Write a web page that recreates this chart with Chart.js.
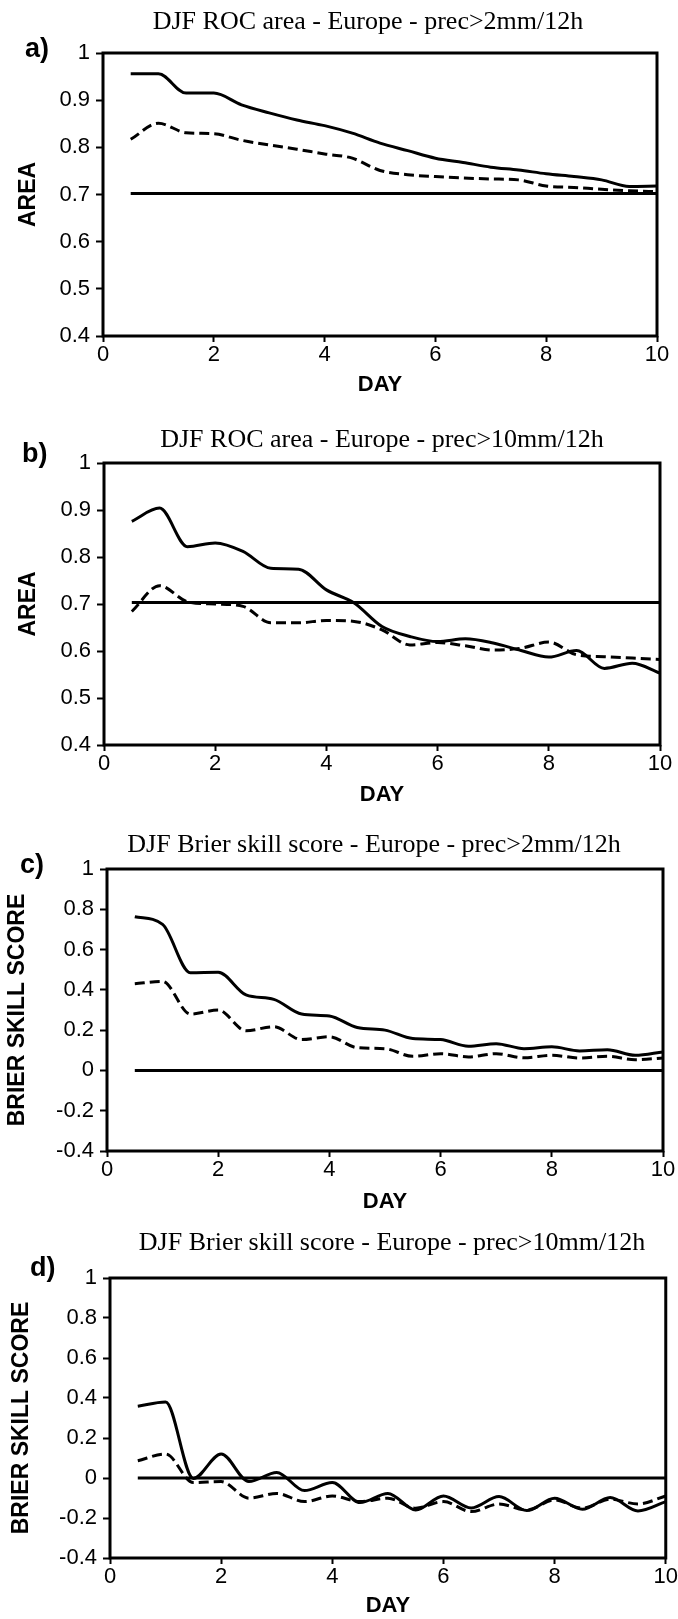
<!DOCTYPE html>
<html>
<head>
<meta charset="utf-8">
<script src="https://cdn.jsdelivr.net/npm/chart.js@4.4.1/dist/chart.umd.min.js"></script>
<style>
  html, body { margin: 0; padding: 0; background: #fff; }
  body { position: relative; width: 678px; height: 1619px; overflow: hidden; }
  canvas { position: absolute; left: 0; }
</style>
</head>
<body>
<canvas id="chartA"></canvas>
<canvas id="chartB"></canvas>
<canvas id="chartC"></canvas>
<canvas id="chartD"></canvas>
<script>
'use strict';

// forecast day (12h steps)
const days = [0.5, 1, 1.5, 2, 2.5, 3, 3.5, 4, 4.5, 5, 5.5, 6, 6.5, 7, 7.5, 8, 8.5, 9, 9.5, 10];
const refDays = [0.5, 10];

// a) ROC area, prec > 2mm/12h
const rocA_solid  = [0.956, 0.956, 0.915, 0.915, 0.890, 0.873, 0.858, 0.846, 0.830, 0.809, 0.793, 0.777, 0.768, 0.758, 0.752, 0.744, 0.738, 0.731, 0.717, 0.718];
const rocA_dashed = [0.817, 0.851, 0.831, 0.829, 0.815, 0.805, 0.796, 0.786, 0.777, 0.751, 0.742, 0.738, 0.735, 0.733, 0.731, 0.718, 0.715, 0.711, 0.708, 0.706];
const rocA_ref    = [0.702, 0.702];

// b) ROC area, prec > 10mm/12h
const rocB_solid  = [0.876, 0.904, 0.822, 0.830, 0.812, 0.776, 0.774, 0.730, 0.702, 0.652, 0.631, 0.620, 0.626, 0.617, 0.601, 0.587, 0.601, 0.563, 0.574, 0.553];
const rocB_dashed = [0.684, 0.739, 0.705, 0.700, 0.695, 0.660, 0.660, 0.665, 0.663, 0.645, 0.613, 0.618, 0.611, 0.602, 0.606, 0.619, 0.592, 0.588, 0.585, 0.582];
const rocB_ref    = [0.703, 0.703];

// c) Brier skill score, prec > 2mm/12h
const bssC_solid  = [0.763, 0.725, 0.485, 0.487, 0.375, 0.353, 0.280, 0.270, 0.213, 0.200, 0.158, 0.153, 0.120, 0.133, 0.108, 0.117, 0.097, 0.103, 0.075, 0.092];
const bssC_dashed = [0.430, 0.442, 0.280, 0.300, 0.197, 0.217, 0.153, 0.167, 0.113, 0.108, 0.070, 0.083, 0.067, 0.083, 0.063, 0.075, 0.062, 0.070, 0.053, 0.062];
const bssC_ref    = [0, 0];

// d) Brier skill score, prec > 10mm/12h
const bssD_solid  = [0.359, 0.380, -0.002, 0.120, -0.018, 0.028, -0.063, -0.023, -0.123, -0.077, -0.160, -0.090, -0.150, -0.093, -0.163, -0.101, -0.156, -0.098, -0.165, -0.118];
const bssD_dashed = [0.086, 0.120, -0.023, -0.018, -0.101, -0.077, -0.118, -0.090, -0.118, -0.101, -0.151, -0.118, -0.168, -0.130, -0.160, -0.110, -0.151, -0.106, -0.130, -0.090];
const bssD_ref    = [0, 0];

const xTicks = [0, 2, 4, 6, 8, 10];
const rocTicks = [0.4, 0.5, 0.6, 0.7, 0.8, 0.9, 1];
const bssTicks = [-0.4, -0.2, 0, 0.2, 0.4, 0.6, 0.8, 1];

const serif = '"Liberation Serif", "Times New Roman", serif';
const sans = '"Liberation Sans", Arial, Helvetica, sans-serif';

// frame round the plot area
const framePlugin = {
  id: 'frame',
  afterDatasetsDraw(chart) {
    const a = chart.chartArea;
    const ctx = chart.ctx;
    ctx.save();
    ctx.strokeStyle = '#000';
    ctx.lineWidth = 3;
    ctx.strokeRect(a.left, a.top, a.right - a.left, a.bottom - a.top);
    ctx.restore();
  }
};

// title, panel letter, axis titles
const panelTextPlugin = {
  id: 'panelText',
  afterDraw(chart, args, opts) {
    const a = chart.chartArea;
    const ctx = chart.ctx;
    ctx.save();
    ctx.fillStyle = '#000';
    ctx.textBaseline = 'alphabetic';

    ctx.font = '26px ' + serif;
    ctx.textAlign = 'center';
    ctx.fillText(opts.title, opts.titleX, opts.titleY);

    ctx.font = 'bold 27px ' + sans;
    ctx.textAlign = 'left';
    ctx.fillText(opts.letter, opts.letterX, opts.letterY);

    ctx.font = 'bold 22px ' + sans;
    ctx.textAlign = 'center';
    ctx.textBaseline = 'middle';
    ctx.fillText('DAY', (a.left + a.right) / 2, opts.dayY);

    ctx.translate(opts.yTitleX, (a.top + a.bottom) / 2);
    ctx.rotate(-Math.PI / 2);
    ctx.font = 'bold 23px ' + sans;
    ctx.fillText(opts.yTitle, 0, 0);
    ctx.restore();
  }
};

function toPoints(xs, ys) {
  return xs.map((x, i) => ({ x: x, y: ys[i] }));
}

function makePanel(p) {
  const canvas = document.getElementById(p.id);
  canvas.width = 678;
  canvas.height = p.height;
  canvas.style.top = p.top + 'px';
  canvas.style.width = '678px';
  canvas.style.height = p.height + 'px';

  const line = {
    borderColor: '#000',
    borderWidth: 3,
    pointRadius: 0,
    fill: false,
    cubicInterpolationMode: 'monotone'
  };

  return new Chart(canvas.getContext('2d'), {
    type: 'line',
    data: {
      datasets: [
        Object.assign({ data: toPoints(days, p.solid) }, line),
        Object.assign({ data: toPoints(days, p.dashed), borderDash: [10, 5] }, line),
        Object.assign({ data: toPoints(refDays, p.ref) }, line)
      ]
    },
    options: {
      responsive: false,
      animation: false,
      events: [],
      layout: {
        padding: { top: p.plot.top - p.top, right: 678 - p.plot.right, left: 0, bottom: 0 }
      },
      plugins: {
        legend: { display: false },
        tooltip: { enabled: false },
        panelText: p.text
      },
      scales: {
        x: {
          type: 'linear',
          min: 0,
          max: 10,
          afterFit: (scale) => { scale.height = p.top + p.height - p.plot.bottom; },
          afterBuildTicks: (scale) => { scale.ticks = xTicks.map((v) => ({ value: v })); },
          border: { display: false },
          grid: { drawOnChartArea: false, tickLength: 6, tickWidth: 2, tickColor: '#000' },
          ticks: { color: '#000', padding: 0, maxRotation: 0, font: { family: sans, size: 22 } }
        },
        y: {
          min: p.yMin,
          max: p.yMax,
          afterFit: (scale) => { scale.width = p.plot.left; },
          afterBuildTicks: (scale) => { scale.ticks = p.yTicks.map((v) => ({ value: v })); },
          border: { display: false },
          grid: { drawOnChartArea: false, tickLength: 7, tickWidth: 2, tickColor: '#000' },
          ticks: {
            color: '#000',
            padding: 6,
            font: { family: sans, size: 22 },
            callback: (v) => String(Number(v.toFixed(1)))
          }
        }
      }
    },
    plugins: [framePlugin, panelTextPlugin]
  });
}

makePanel({
  id: 'chartA', top: 0, height: 405,
  plot: { top: 53, bottom: 336, left: 103, right: 657 },
  yMin: 0.4, yMax: 1, yTicks: rocTicks,
  solid: rocA_solid, dashed: rocA_dashed, ref: rocA_ref,
  text: { title: 'DJF ROC area - Europe - prec>2mm/12h', titleX: 368, titleY: 29,
          letter: 'a)', letterX: 25, letterY: 57, yTitle: 'AREA', yTitleX: 29, dayY: 385 }
});

makePanel({
  id: 'chartB', top: 405, height: 410,
  plot: { top: 463, bottom: 745, left: 104, right: 660 },
  yMin: 0.4, yMax: 1, yTicks: rocTicks,
  solid: rocB_solid, dashed: rocB_dashed, ref: rocB_ref,
  text: { title: 'DJF ROC area - Europe - prec>10mm/12h', titleX: 382, titleY: 42,
          letter: 'b)', letterX: 22, letterY: 57, yTitle: 'AREA', yTitleX: 29, dayY: 390 }
});

makePanel({
  id: 'chartC', top: 815, height: 405,
  plot: { top: 869, bottom: 1151, left: 107, right: 663 },
  yMin: -0.4, yMax: 1, yTicks: bssTicks,
  solid: bssC_solid, dashed: bssC_dashed, ref: bssC_ref,
  text: { title: 'DJF Brier skill score - Europe - prec>2mm/12h', titleX: 374, titleY: 37,
          letter: 'c)', letterX: 20, letterY: 58, yTitle: 'BRIER SKILL SCORE', yTitleX: 18, dayY: 387 }
});

makePanel({
  id: 'chartD', top: 1220, height: 399,
  plot: { top: 1278, bottom: 1558, left: 110, right: 666 },
  yMin: -0.4, yMax: 1, yTicks: bssTicks,
  solid: bssD_solid, dashed: bssD_dashed, ref: bssD_ref,
  text: { title: 'DJF Brier skill score - Europe - prec>10mm/12h', titleX: 392, titleY: 30,
          letter: 'd)', letterX: 30, letterY: 56, yTitle: 'BRIER SKILL SCORE', yTitleX: 22, dayY: 386 }
});
</script>
</body>
</html>
